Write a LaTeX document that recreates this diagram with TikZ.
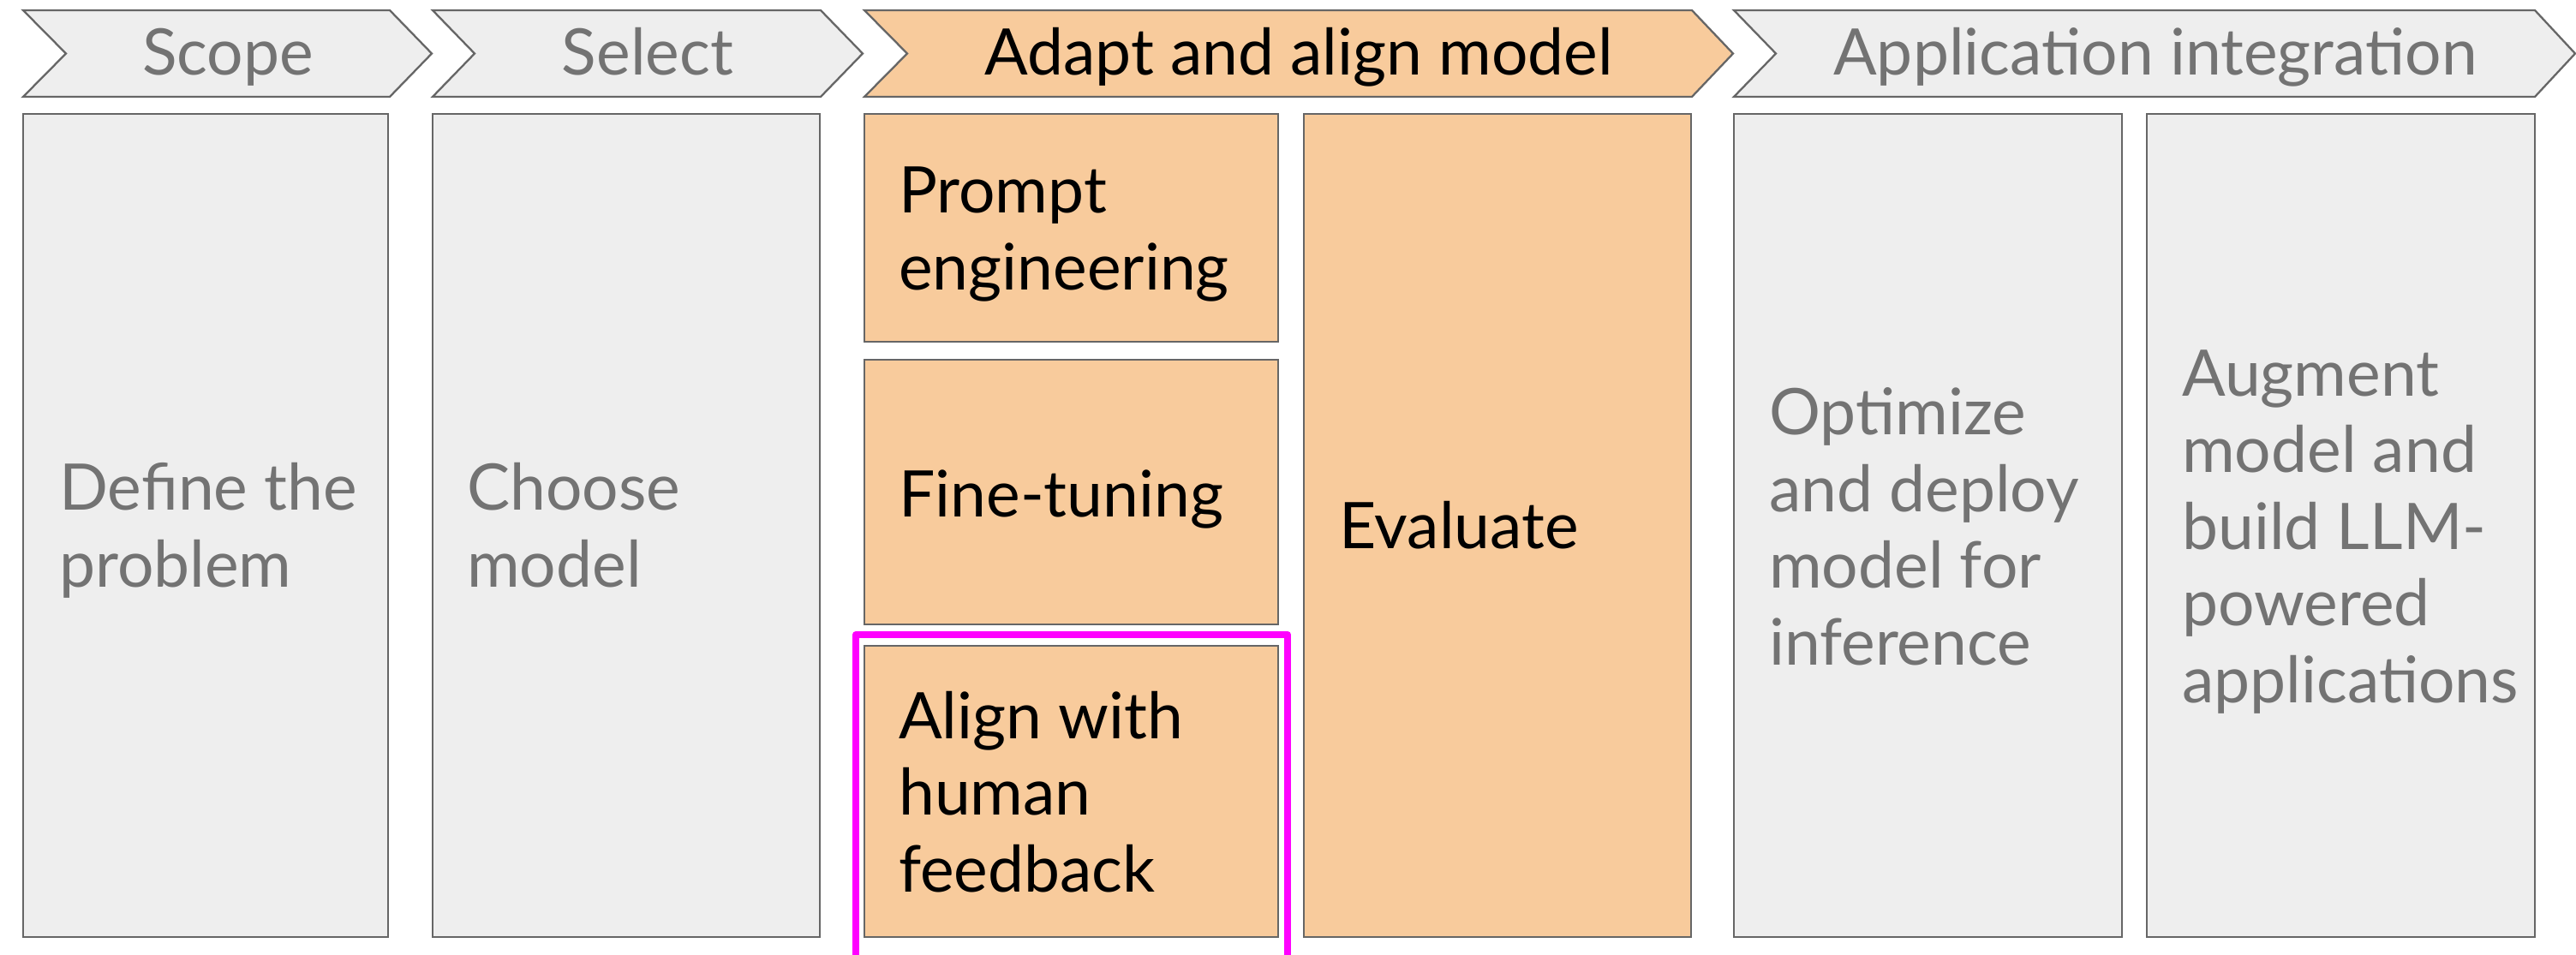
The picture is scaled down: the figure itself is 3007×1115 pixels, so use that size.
\documentclass[tikz,border=0pt]{standalone}
\usepackage{fontspec}
\setmainfont{Lato}
\definecolor{boxgray}{HTML}{EEEEEE}
\definecolor{boxorange}{HTML}{F8CB9C}
\definecolor{edgegray}{HTML}{666666}
\definecolor{textgray}{HTML}{737373}
\definecolor{hilite}{HTML}{FF00FF}
\tikzset{
  gbox/.style={draw=edgegray, fill=boxgray, line width=2.3pt},
  obox/.style={draw=edgegray, fill=boxorange, line width=2.3pt},
  lbl/.style={anchor=base west, align=left, inner sep=0pt, font=\fontsize{75}{89.5}\selectfont},
  hdr/.style={anchor=base, inner sep=0pt, font=\fontsize{75}{89.5}\selectfont},
}
\begin{document}
\begin{tikzpicture}[x=1pt,y=-1pt]
\useasboundingbox (0,0) rectangle (3007,1115);
% chevrons
\draw[gbox] (27,12) -- (455,12) -- (504,62.5) -- (455,113) -- (27,113) -- (77,62.5) -- cycle;
\draw[gbox] (505,12) -- (958,12) -- (1007,62.5) -- (958,113) -- (505,113) -- (554,62.5) -- cycle;
\draw[obox] (1009,12) -- (1975,12) -- (2023,62.5) -- (1975,113) -- (1009,113) -- (1059,62.5) -- cycle;
\draw[gbox] (2024,12) -- (2959,12) -- (3006,62.5) -- (2959,113) -- (2024,113) -- (2073,62.5) -- cycle;
\node[hdr, text=textgray] (hscope) at (266,88) {Scope};
\node[hdr, text=textgray] (hselect) at (756,88) {Select};
\node[hdr, text=black] (hadapt) at (1516,88) {Adapt and align model};
\node[hdr, text=textgray] (happ) at (2516,88) {Application integration};
% boxes
\draw[gbox] (27,133) rectangle (453,1094);
\draw[gbox] (505,133) rectangle (957,1094);
\draw[obox] (1009,133) rectangle (1492,399);
\draw[obox] (1009,420) rectangle (1492,729);
\draw[obox] (1009,754) rectangle (1492,1094);
\draw[obox] (1522,133) rectangle (1974,1094);
\draw[gbox] (2024,133) rectangle (2477,1094);
\draw[gbox] (2506,133) rectangle (2959,1094);
% highlight
\draw[hilite, line width=8pt, line join=round] (999,741) rectangle (1503,1118.5);
% labels (anchored at the baseline of the last line)
\node[lbl, text=textgray] (define) at (69,685) {Define the\\problem};
\node[lbl, text=textgray] (choose) at (545,685) {Choose\\model};
\node[lbl, text=black] (prompt) at (1049,338) {Prompt\\engineering};
\node[lbl, text=black] (fine) at (1049,603) {Fine-tuning};
\node[lbl, text=black] (align) at (1049,1041) {Align with\\human\\feedback};
\node[lbl, text=black] (eval) at (1563,640) {Evaluate};
\node[lbl, text=textgray] (optim) at (2065,776) {Optimize\\and deploy\\model for\\inference};
\node[lbl, text=textgray] (augment) at (2547,820) {Augment\\model and\\build LLM-\\powered\\applications};
\end{tikzpicture}
\end{document}
